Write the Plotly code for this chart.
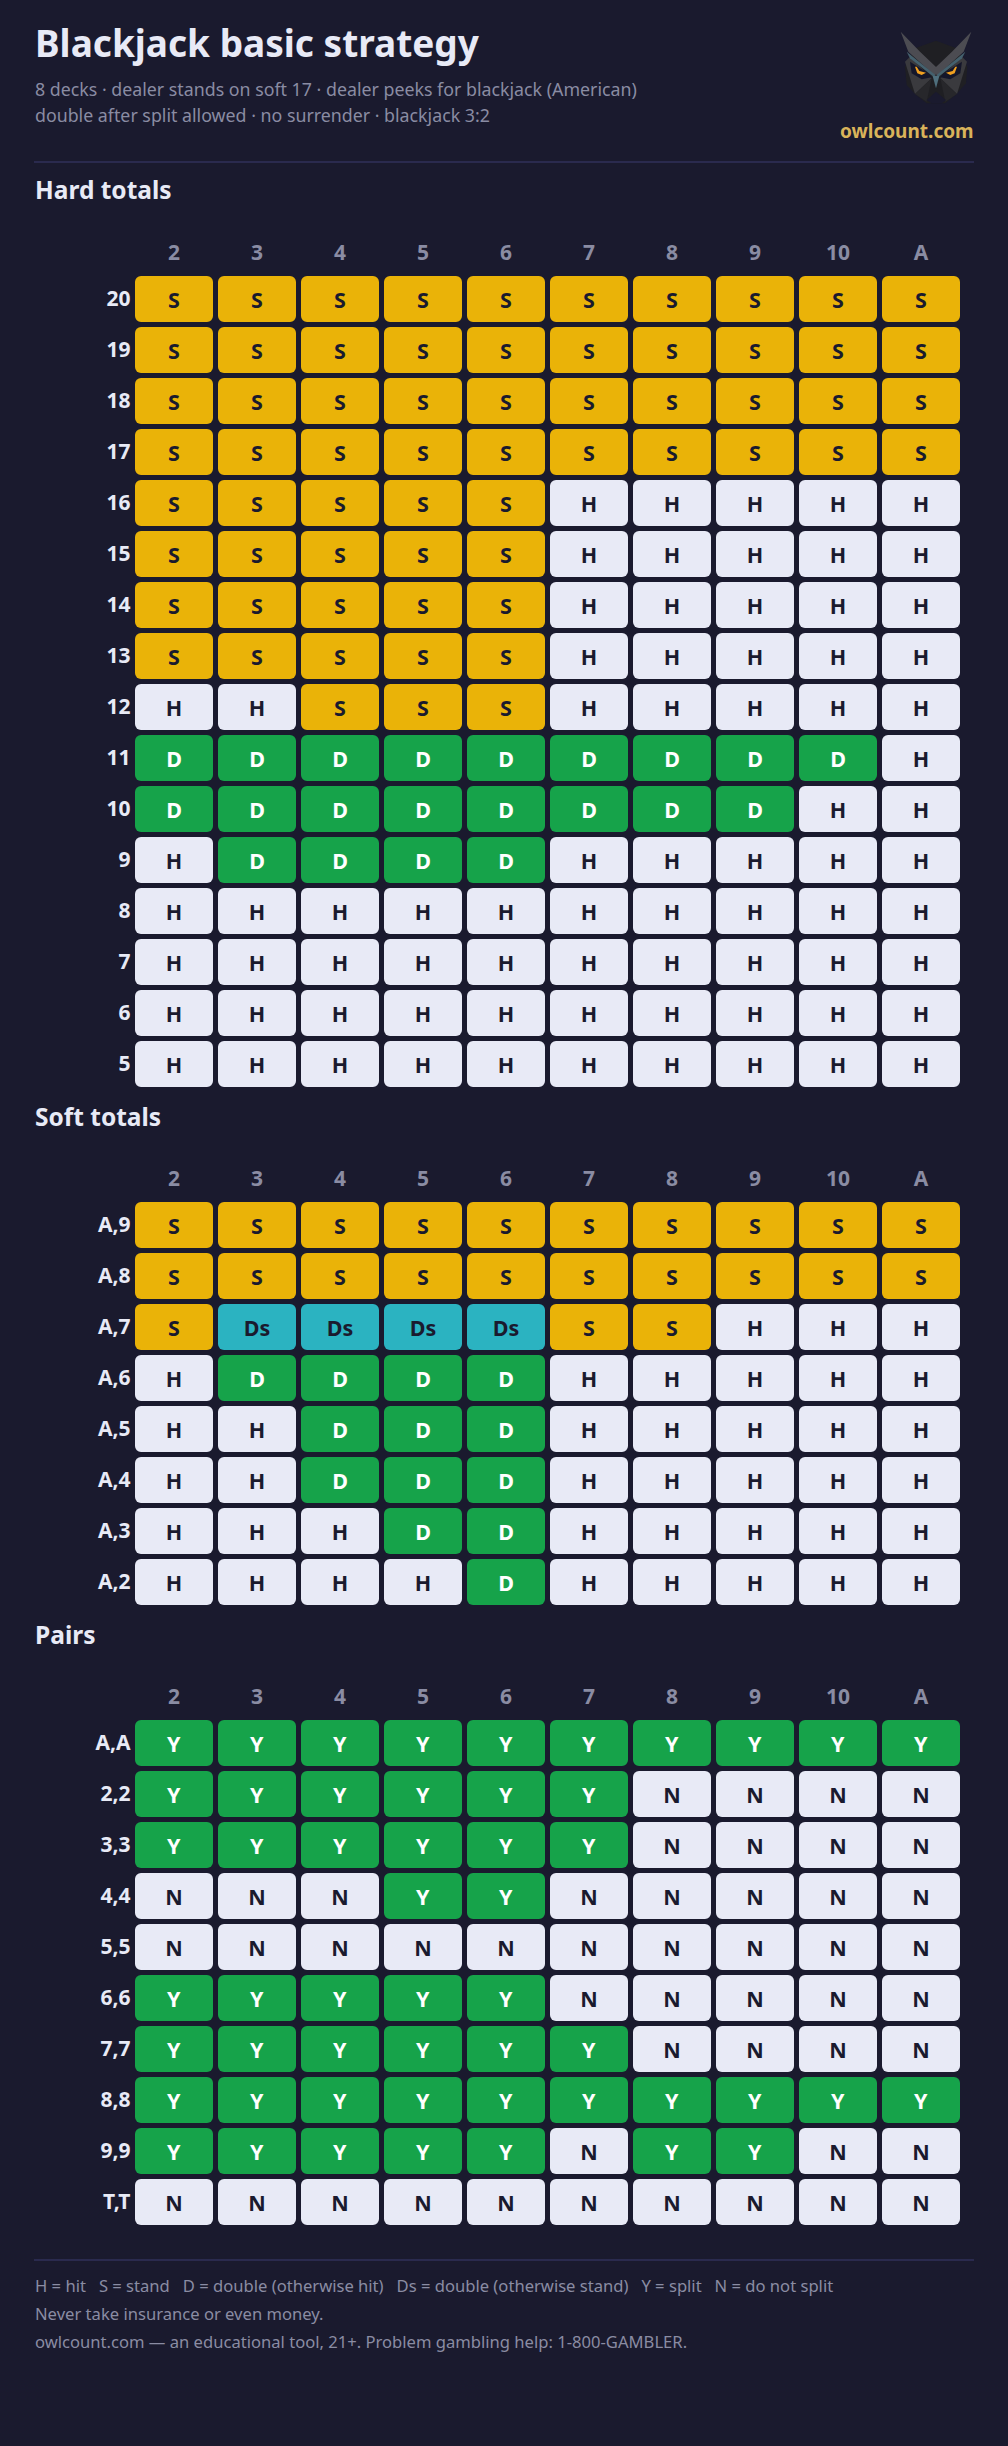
import plotly.graph_objects as go

W, H = 1008, 2446
FONT = "Noto Sans"

DEALER = ["2", "3", "4", "5", "6", "7", "8", "9", "10", "A"]

HARD_ROWS = ["20", "19", "18", "17", "16", "15", "14", "13", "12", "11", "10", "9", "8", "7", "6", "5"]
HARD_ACTIONS = [
    "S S S S S S S S S S".split(),
    "S S S S S S S S S S".split(),
    "S S S S S S S S S S".split(),
    "S S S S S S S S S S".split(),
    "S S S S S H H H H H".split(),
    "S S S S S H H H H H".split(),
    "S S S S S H H H H H".split(),
    "S S S S S H H H H H".split(),
    "H H S S S H H H H H".split(),
    "D D D D D D D D D H".split(),
    "D D D D D D D D H H".split(),
    "H D D D D H H H H H".split(),
    "H H H H H H H H H H".split(),
    "H H H H H H H H H H".split(),
    "H H H H H H H H H H".split(),
    "H H H H H H H H H H".split(),
]

SOFT_ROWS = ["A,9", "A,8", "A,7", "A,6", "A,5", "A,4", "A,3", "A,2"]
SOFT_ACTIONS = [
    "S S S S S S S S S S".split(),
    "S S S S S S S S S S".split(),
    "S Ds Ds Ds Ds S S H H H".split(),
    "H D D D D H H H H H".split(),
    "H H D D D H H H H H".split(),
    "H H D D D H H H H H".split(),
    "H H H D D H H H H H".split(),
    "H H H H D H H H H H".split(),
]

PAIR_ROWS = ["A,A", "2,2", "3,3", "4,4", "5,5", "6,6", "7,7", "8,8", "9,9", "T,T"]
PAIR_ACTIONS = [
    "Y Y Y Y Y Y Y Y Y Y".split(),
    "Y Y Y Y Y Y N N N N".split(),
    "Y Y Y Y Y Y N N N N".split(),
    "N N N Y Y N N N N N".split(),
    "N N N N N N N N N N".split(),
    "Y Y Y Y Y N N N N N".split(),
    "Y Y Y Y Y Y N N N N".split(),
    "Y Y Y Y Y Y Y Y Y Y".split(),
    "Y Y Y Y Y N Y Y N N".split(),
    "N N N N N N N N N N".split(),
]

BG = "#1a1a2e"
LIGHT = "#e8eaf6"
MUTED = "#8a8ca3"
TICK = "#8a8ca3"
RULE = "#2a2a4e"
GOLD = "#d9b35a"

FILL = {"S": "#eab308", "H": "#e8eaf6", "D": "#16a34a", "Ds": "#2bb3c1", "Y": "#16a34a", "N": "#e8eaf6"}
INK = {"S": BG, "H": BG, "D": "#ffffff", "Ds": BG, "Y": "#ffffff", "N": BG}

X0 = 132.5
PITCH_X, PITCH_Y = 83, 51
CELL_W, CELL_H = 78, 46
SECTIONS = [
    ("Hard totals", HARD_ROWS, HARD_ACTIONS, 273.5, 190),
    ("Soft totals", SOFT_ROWS, SOFT_ACTIONS, 1199.5, 1116),
    ("Pairs", PAIR_ROWS, PAIR_ACTIONS, 1717.5, 1634),
]


def px(x):
    return x / W


def py(y):
    return 1 - y / H


fig = go.Figure()
layout_axes = {}
annotations = []

for k, (name, rows, actions, top, head_y) in enumerate(SECTIONS):
    suffix = "" if k == 0 else str(k + 1)
    for act in FILL:
        xs, bases, texts = [], [], []
        for i, row in enumerate(actions):
            for j, a in enumerate(row):
                if a == act:
                    xs.append(DEALER[j])
                    bases.append(i + (1 - CELL_H / PITCH_Y) / 2)
                    texts.append(a)
        if not xs:
            continue
        fig.add_trace(go.Bar(
            x=xs, y=[CELL_H / PITCH_Y] * len(xs), base=bases,
            width=CELL_W / PITCH_X,
            text=texts, textposition="inside", insidetextanchor="middle", textangle=0,
            constraintext="none",
            textfont=dict(family=FONT, size=21.5, color=INK[act], weight=700),
            marker=dict(color=FILL[act], line_width=0, cornerradius=6.5),
            xaxis="x" + suffix, yaxis="y" + suffix,
            hoverinfo="skip", showlegend=False,
        ))
    bottom = top + PITCH_Y * len(rows)
    layout_axes["xaxis" + suffix] = dict(
        domain=[px(X0), px(X0 + PITCH_X * 10)],
        type="category", categoryorder="array", categoryarray=DEALER,
        range=[-0.5, 9.5], side="top", anchor="y" + suffix,
        showgrid=False, zeroline=False, showline=False, ticks="",
        tickfont=dict(family=FONT, size=21, color=TICK, weight=700),
        ticklabelstandoff=8, fixedrange=True,
    )
    layout_axes["yaxis" + suffix] = dict(
        domain=[py(bottom), py(top)],
        range=[len(rows), 0], anchor="x" + suffix,
        tickmode="array", tickvals=[i + 0.5 for i in range(len(rows))], ticktext=rows,
        showgrid=False, zeroline=False, showline=False, ticks="",
        tickfont=dict(family=FONT, size=21, color=LIGHT, weight=700),
        ticklabelstandoff=1, fixedrange=True,
    )
    annotations.append(dict(text=f"<b>{name}</b>", x=px(32.5), y=py(head_y), xref="paper", yref="paper",
                            xanchor="left", yanchor="middle", showarrow=False,
                            font=dict(family=FONT, size=24.5, color=LIGHT)))


def note(text, x, y, size, color, anchor="left"):
    annotations.append(dict(text=text, x=px(x), y=py(y), xref="paper", yref="paper",
                            xanchor=anchor, yanchor="middle", showarrow=False, xshift=0,
                            font=dict(family=FONT, size=size, color=color)))


note("<b>Blackjack basic strategy</b>", 32.5, 42, 37, LIGHT)
note("8 decks · dealer stands on soft 17 · dealer peeks for blackjack (American)", 32.5, 89, 17.8, MUTED)
note("double after split allowed · no surrender · blackjack 3:2", 32.5, 115, 17.8, MUTED)
note("<b>owlcount.com</b>", 975.5, 131, 19, GOLD, "right")
note("H = hit   S = stand   D = double (otherwise hit)   Ds = double (otherwise stand)   Y = split   N = do not split",
     32.5, 2285, 16.6, TICK)
note("Never take insurance or even money.", 32.5, 2313, 16.6, TICK)
note("owlcount.com — an educational tool, 21+. Problem gambling help: 1-800-GAMBLER.", 32.5, 2341, 16.6, TICK)

shapes = []
for y in (162, 2260):
    shapes.append(dict(type="line", xref="paper", yref="paper", x0=px(34), x1=px(974), y0=py(y), y1=py(y),
                       line=dict(color=RULE, width=2)))

# Logo: decorative owl, polygons in a 3x crop space around the top-right corner.
def poly(points, color):
    d = "M" + " L".join(f"{px(860 + a / 3):.5f},{py(20 + b / 3):.5f}" for a, b in points) + " Z"
    shapes.append(dict(type="path", xref="paper", yref="paper", path=d,
                       fillcolor=color, line=dict(width=0)))


def mirrored(points, color):
    poly(points, color)
    poly([(456 - a, b) for a, b in points], color)


poly([(165, 85), (228, 62), (290, 85), (322, 140), (318, 190), (290, 222), (255, 250),
      (200, 250), (165, 222), (140, 195), (135, 140)], "#1f1f23")
mirrored([(135, 125), (165, 222), (215, 175), (150, 110)], "#3a3a3e")
mirrored([(165, 222), (215, 175), (200, 245)], "#27272b")
mirrored([(122, 35), (145, 95), (226, 168), (232, 145), (180, 95)], "#4c4c52")
mirrored([(140, 95), (150, 115), (222, 172), (226, 165)], "#45616e")
mirrored([(150, 125), (205, 160), (215, 172), (185, 178), (155, 160)], "#14162a")
mirrored([(165, 140), (170, 140), (178, 153), (198, 158), (185, 165), (172, 160)], "#f0a020")
poly([(218, 168), (238, 168), (228, 205)], "#4f6f7d")
poly([(228, 215), (200, 240), (215, 250), (245, 250), (258, 240)], "#1a1a2e")

fig.update_layout(
    width=W, height=H, autosize=False,
    margin=dict(l=0, r=0, t=0, b=0, pad=0),
    paper_bgcolor=BG, plot_bgcolor=BG,
    barmode="overlay", showlegend=False,
    annotations=annotations, shapes=shapes,
    font=dict(family=FONT),
    **layout_axes,
)

fig.write_html("out.html", config={"displayModeBar": False},
               post_script="document.body.style.margin='0';document.body.style.background='#1a1a2e';")
